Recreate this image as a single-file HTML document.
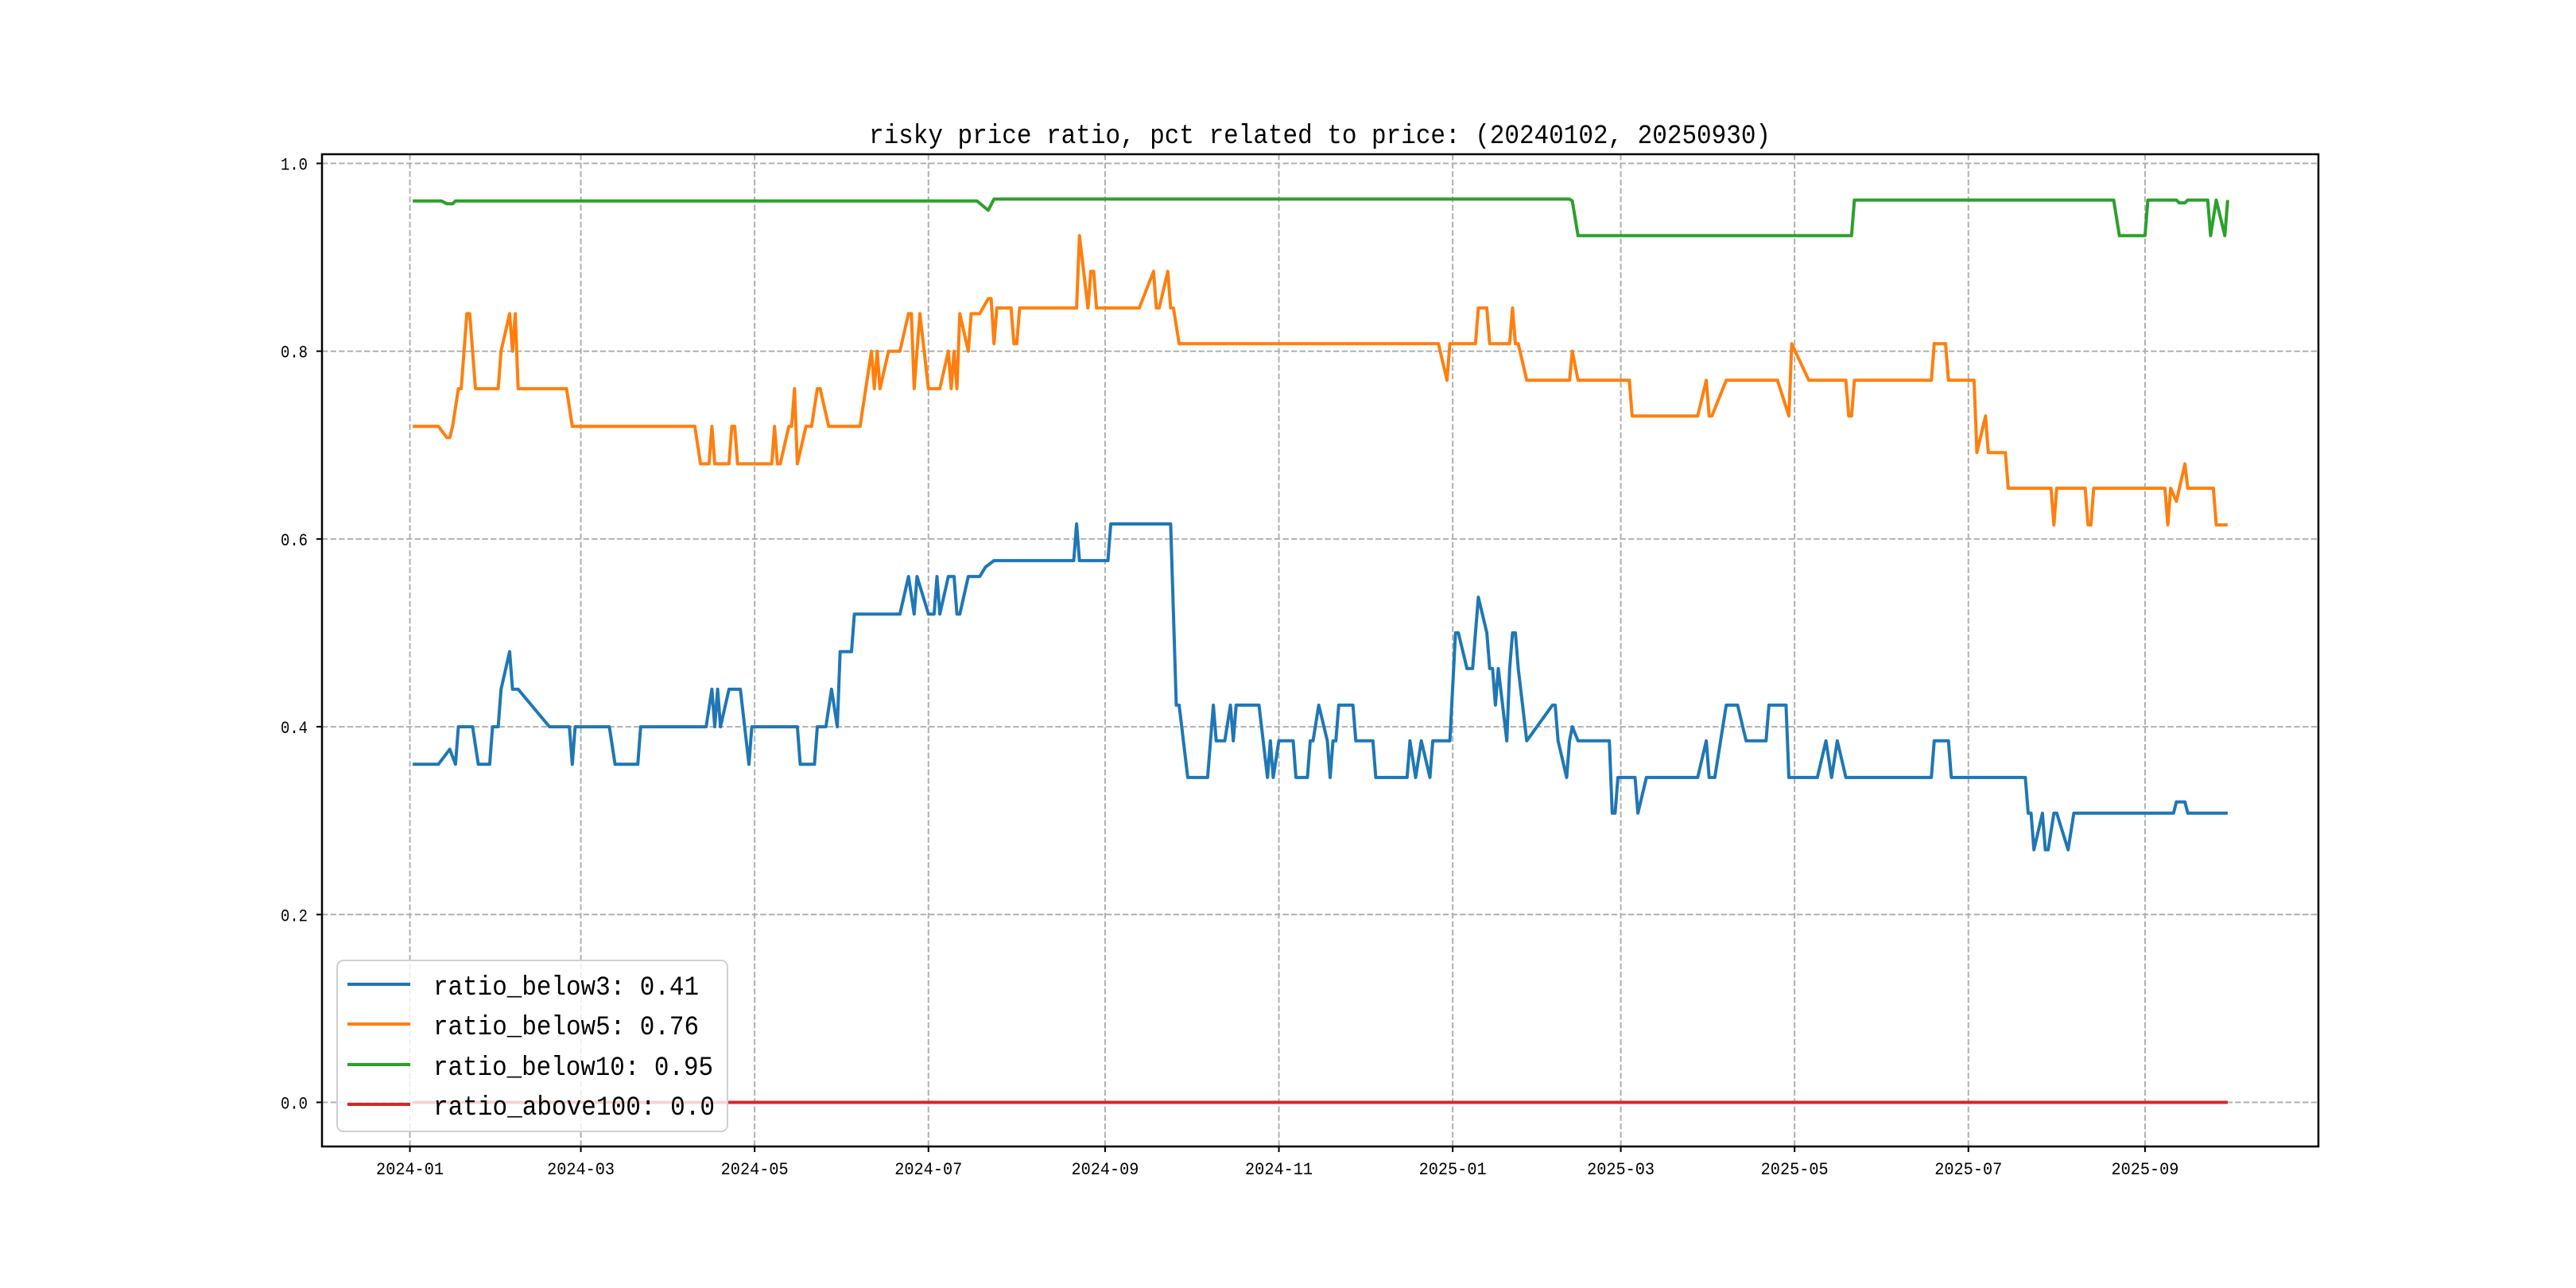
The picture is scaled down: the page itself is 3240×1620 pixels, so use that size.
<!DOCTYPE html>
<html><head><meta charset="utf-8"><style>
html,body{margin:0;padding:0;background:#fff;}
svg{display:block;}
text{font-family:"Liberation Mono","Noto Sans CJK SC",monospace;fill:#000;}
</style></head><body>
<svg id="chart" width="3240" height="1620" viewBox="0 0 3240 1620" xmlns="http://www.w3.org/2000/svg">
<rect x="0" y="0" width="3240" height="1620" fill="#fff"/>
<text x="1660" y="180" text-anchor="middle" font-size="34" textLength="1134" lengthAdjust="spacingAndGlyphs">risky price ratio, pct related to price: (20240102, 20250930)</text>
<g id="grid"></g><g id="series"></g><g id="axes"></g><g id="legend"></g>
</svg>
<script>
const startDate = "2024-01-01";
const xTickLabels = ["2024-01","2024-03","2024-05","2024-07","2024-09","2024-11","2025-01","2025-03","2025-05","2025-07","2025-09"];
const xTickDays = [0,60,121,182,244,305,366,425,486,547,609];
const yTickValues = [0,0.2,0.4,0.6,0.8,1.0];
const yTickLabels = ["0.0","0.2","0.4","0.6","0.8","1.0"];
const seriesNames = ["ratio_below3: 0.41","ratio_below5: 0.76","ratio_below10: 0.95","ratio_above100: 0.0"];
const below3Days = [1,10,14,16,17,22,24,28,29,31,32,35,36,38,49,56,57,58,70,72,80,81,104,106,107,108,109,112,116,119,120,136,137,142,143,146,148,150,151,155,156,172,175,177,178,182,184,185,186,189,191,192,193,196,200,202,205,233,234,235,245,246,267,269,270,273,280,282,283,286,288,289,290,298,301,302,303,305,310,311,315,316,317,319,322,323,324,325,326,331,332,338,339,350,351,353,355,358,359,365,367,368,371,373,375,378,379,380,381,382,385,386,387,388,389,392,401,402,403,406,407,408,410,421,422,423,424,430,431,434,452,455,456,458,462,466,469,476,477,483,484,494,497,499,501,504,534,535,540,541,567,568,569,570,573,574,575,577,578,582,584,619,620,623,624,638];
const below3Values = [.36,.36,.376,.36,.40,.40,.36,.36,.40,.40,.44,.48,.44,.44,.40,.40,.36,.40,.40,.36,.36,.40,.40,.44,.40,.44,.40,.44,.44,.36,.40,.40,.36,.36,.40,.40,.44,.40,.48,.48,.52,.52,.56,.52,.56,.52,.52,.56,.52,.56,.56,.52,.52,.56,.56,.57,.577,.577,.616,.577,.577,.616,.616,.423,.423,.346,.346,.423,.385,.385,.423,.385,.423,.423,.346,.385,.346,.385,.385,.346,.346,.385,.385,.423,.385,.346,.385,.385,.423,.423,.385,.385,.346,.346,.385,.346,.385,.346,.385,.385,.5,.5,.462,.462,.538,.5,.462,.462,.423,.462,.385,.462,.5,.5,.462,.385,.423,.423,.385,.346,.385,.40,.385,.385,.308,.308,.346,.346,.308,.346,.346,.385,.346,.346,.423,.423,.385,.385,.423,.423,.346,.346,.385,.346,.385,.346,.346,.385,.385,.346,.346,.308,.308,.269,.308,.269,.269,.308,.308,.269,.308,.308,.32,.32,.308,.308];
const below5Days = [1,10,13,14,15,17,18,20,21,23,31,32,35,36,37,38,55,57,100,102,105,106,107,112,113,114,115,127,128,129,130,133,134,135,136,139,141,143,144,147,158,160,162,163,164,165,168,172,175,176,177,179,182,186,189,190,191,192,193,196,197,200,203,204,205,206,211,212,213,214,234,235,238,239,240,241,256,261,262,263,266,267,268,270,361,364,365,374,375,378,379,386,387,388,389,392,407,408,410,428,429,452,455,456,457,462,480,484,485,491,504,505,506,507,534,535,539,540,549,550,553,554,560,561,576,577,578,588,589,590,591,616,617,618,620,623,624,633,634,638];
const below5Values = [.72,.72,.708,.708,.72,.76,.76,.84,.84,.76,.76,.80,.84,.80,.84,.76,.76,.72,.72,.68,.68,.72,.68,.68,.72,.72,.68,.68,.72,.68,.68,.72,.72,.76,.68,.72,.72,.76,.76,.72,.72,.76,.80,.76,.80,.76,.80,.80,.84,.84,.76,.84,.76,.76,.80,.76,.80,.76,.84,.80,.84,.84,.856,.856,.808,.846,.846,.808,.808,.846,.846,.923,.846,.885,.885,.846,.846,.885,.846,.846,.885,.846,.846,.808,.808,.769,.808,.808,.846,.846,.808,.808,.846,.808,.808,.769,.769,.80,.769,.769,.731,.731,.769,.731,.731,.769,.769,.731,.808,.769,.769,.731,.731,.769,.769,.808,.808,.769,.769,.692,.731,.692,.692,.654,.654,.615,.654,.654,.615,.615,.654,.654,.615,.654,.64,.68,.654,.654,.615,.615];
const below10Days = [1,11,13,15,16,199,203,205,407,408,410,506,507,598,600,609,610,620,621,623,624,631,632,634,637,638];
const below10Values = [.96,.96,.957,.957,.96,.96,.95,.962,.962,.96,.923,.923,.961,.961,.923,.923,.961,.961,.958,.958,.961,.961,.923,.961,.923,.961];
const above100Days = [1,638];
const above100Values = [0,0];

const NS="http://www.w3.org/2000/svg";
const AX={l:405,r:2916,t:194,b:1442};
const dMin=1-0.05*637, dMax=638+0.05*637;
function xScale(d){return AX.l+(d-dMin)/(dMax-dMin)*(AX.r-AX.l);}
function yScale(v){return 1386.5-v*1181;}
function mk(tag,attrs,parent){const e=document.createElementNS(NS,tag);for(const k in attrs)e.setAttribute(k,attrs[k]);parent.appendChild(e);return e;}
const grid=document.getElementById('grid'),axes=document.getElementById('axes'),ser=document.getElementById('series'),leg=document.getElementById('legend');
xTickDays.forEach((d,i)=>{
  const x=xScale(d);
  const g=mk('line',{x1:x,x2:x,y1:AX.t,y2:AX.b,stroke:'#b0b0b0','stroke-width':2,'stroke-dasharray':'7.4,3.2'},grid);
  
  
  const t=mk('line',{x1:x,x2:x,y1:AX.b,y2:AX.b+7,stroke:'#000','stroke-width':2},axes);
  
  
  const lb=mk('text',{x:x,y:AX.b+35,'text-anchor':'middle','font-size':22,textLength:85,lengthAdjust:'spacingAndGlyphs'},axes);
  lb.textContent=xTickLabels[i];
  
  
});
yTickValues.forEach((v,i)=>{
  const y=yScale(v);
  const g=mk('line',{x1:AX.l,x2:AX.r,y1:y,y2:y,stroke:'#b0b0b0','stroke-width':2,'stroke-dasharray':'7.4,3.2'},grid);
  
  
  const t=mk('line',{x1:AX.l-7,x2:AX.l,y1:y,y2:y,stroke:'#000','stroke-width':2},axes);
  
  
  const lb=mk('text',{x:AX.l-18,y:y+8,'text-anchor':'end','font-size':22,textLength:34,lengthAdjust:'spacingAndGlyphs'},axes);
  lb.textContent=yTickLabels[i];
  
  
});
const frame=mk('rect',{x:AX.l,y:AX.t,width:AX.r-AX.l,height:AX.b-AX.t,fill:'none',stroke:'#000','stroke-width':2.5},axes);


const colors=['#1f77b4','#ff7f0e','#2ca02c','#d62728'];
const allDays=[below3Days,below5Days,below10Days,above100Days];
const allVals=[below3Values,below5Values,below10Values,above100Values];
const lineNames=['line-ratio-below3','line-ratio-below5','line-ratio-below10','line-ratio-above100'];
allDays.forEach((ds,s)=>{
  const pts=ds.map((d,i)=>xScale(d).toFixed(1)+','+yScale(allVals[s][i]).toFixed(1)).join(' ');
  const p=mk('polyline',{points:pts,fill:'none',stroke:colors[s],'stroke-width':4,'stroke-linejoin':'round'},ser);
  
  
});
const box=mk('rect',{x:424,y:1208,width:491,height:215,rx:8,fill:'#fff','fill-opacity':0.8,stroke:'#d0d0d0','stroke-width':2},leg);


const rowY=[1238,1288,1339,1389];
const textW=[334,334,352,354];
seriesNames.forEach((n,i)=>{
  const l=mk('line',{x1:437,x2:516,y1:rowY[i],y2:rowY[i],stroke:colors[i],'stroke-width':4},leg);
  
  
  const t=mk('text',{x:545,y:rowY[i]+13,'font-size':34,textLength:textW[i],lengthAdjust:'spacingAndGlyphs'},leg);
  t.textContent=n;
  
  
});
</script>
</body></html>
